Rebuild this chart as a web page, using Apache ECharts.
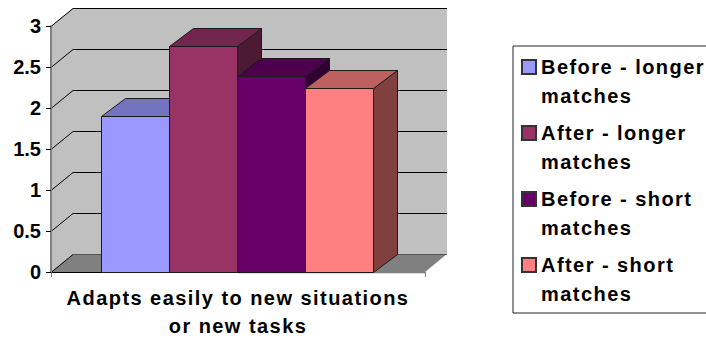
<!DOCTYPE html>
<html>
<head>
<meta charset="utf-8">
<style>
  html, body { margin: 0; padding: 0; background: #fff; }
  #chart { width: 706px; height: 338px; overflow: hidden; }
  /* Wide-set bold text for the legend and category label */
  text[style*="Arial"] { letter-spacing: 1.45px; }
</style>
<script src="https://cdn.jsdelivr.net/npm/echarts@6/dist/echarts.min.js"></script>
</head>
<body>
<div id="chart"></div>
<script>
const categories = ['Adapts easily to new situations\nor new tasks'];
const yTicks = [0, 0.5, 1, 1.5, 2, 2.5, 3];
const seriesNames = [
  'Before - longer\nmatches',
  'After - longer\nmatches',
  'Before - short\nmatches',
  'After - short\nmatches'
];
const beforeLonger = [1.9];
const afterLonger = [2.76];
const beforeShort = [2.39];
const afterShort = [2.24];
const seriesValues = [beforeLonger, afterLonger, beforeShort, afterShort];

const frontColors = ['#9999FF', '#993366', '#660066', '#FF8080'];
const topColors = ['#7373BF', '#73264D', '#4D004D', '#BF6060'];
const sideColors = ['#4D4D80', '#4D1A33', '#330033', '#804040'];

// Depth of the box walls and of the bars, in pixels
const wallDepth = [22, -18];
const barDepth = [24, -18];
const edge = '#1a1a1a';

function poly(points, fill, stroke, width) {
  return {
    type: 'polygon',
    shape: { points: points },
    style: { fill: fill, stroke: stroke || null, lineWidth: width || 1 }
  };
}
function line(a, b, stroke, width) {
  return {
    type: 'line',
    shape: { x1: a[0], y1: a[1], x2: b[0], y2: b[1] },
    style: { stroke: stroke, lineWidth: width || 1, fill: null }
  };
}

// Left wall, back wall, floor and the gridlines that run across them
function renderWalls(params, api) {
  const band = api.size([1, 0])[0];
  const origin = api.coord([0, 0]);
  const left = origin[0] - band / 2;
  const right = origin[0] + band / 2;
  const bottom = origin[1];
  const top = api.coord([0, yTicks[yTicks.length - 1]])[1];
  const dx = wallDepth[0], dy = wallDepth[1];
  const children = [
    poly([[left, top], [left + dx, top + dy], [left + dx, bottom + dy], [left, bottom]], '#C0C0C0'),
    poly([[left + dx, top + dy], [right + dx, top + dy], [right + dx, bottom + dy], [left + dx, bottom + dy]], '#C0C0C0'),
    poly([[left, bottom], [right, bottom], [right + dx, bottom + dy], [left + dx, bottom + dy]], '#808080')
  ];
  yTicks.forEach(function (t) {
    const y = Math.round(api.coord([0, t])[1]) + 0.5;
    children.push(line([left, y], [left + dx, y + dy], '#000'));
    children.push(line([left + dx, y + dy], [right + dx, y + dy], t === 0 ? '#555' : '#000'));
  });
  children.push(line([left, bottom + 0.5], [origin[0], bottom + 0.5], '#000'));
  children.push(line([origin[0], bottom + 0.5], [right, bottom + 0.5], '#808080', 1.5));
  return { type: 'group', children: children };
}

// One box: top and side first, then the front face over them
function renderBar(index) {
  return function (params, api) {
    const band = api.size([1, 0])[0];
    const barWidth = band / 5.5;
    const base = api.coord([api.value(0), 0]);
    const head = api.coord([api.value(0), api.value(1)]);
    const x0 = Math.round(base[0] - 2 * barWidth + index * barWidth) - 0.5;
    const x1 = Math.round(base[0] - 2 * barWidth + (index + 1) * barWidth) - 0.5;
    const y0 = Math.round(head[1]) + 0.5;
    const y1 = Math.round(base[1]) + 0.5;
    const dx = barDepth[0], dy = barDepth[1];
    return {
      type: 'group',
      children: [
        poly([[x1, y0], [x1 + dx, y0 + dy], [x1 + dx, y1 + dy], [x1, y1]], sideColors[index], edge),
        poly([[x0, y0], [x0 + dx, y0 + dy], [x1 + dx, y0 + dy], [x1, y0]], topColors[index], edge),
        poly([[x0, y0], [x1, y0], [x1, y1], [x0, y1]], frontColors[index], edge)
      ]
    };
  };
}

const chart = echarts.init(document.getElementById('chart'), null, { renderer: 'svg' });

chart.setOption({
  animation: false,
  backgroundColor: '#fff',
  grid: { left: 51, top: 26, width: 374, height: 246, outerBoundsMode: 'none' },
  xAxis: {
    type: 'category',
    data: categories,
    axisLine: { show: false },
    axisTick: { show: true, length: 5, lineStyle: { color: '#808080', width: 1 } },
    axisLabel: {
      fontFamily: 'Liberation Sans, Arial',
      fontWeight: 'bold',
      fontSize: 20,
      lineHeight: 28,
      color: '#000',
      margin: 12
    }
  },
  yAxis: {
    type: 'value',
    min: 0,
    max: 3,
    interval: 0.5,
    z: 5,
    splitLine: { show: false },
    axisLine: { show: true, lineStyle: { color: '#808080', width: 2 } },
    axisTick: { show: true, length: 5, lineStyle: { color: '#000', width: 1 } },
    axisLabel: {
      fontFamily: 'Liberation Sans',
      fontWeight: 'bold',
      fontSize: 20,
      color: '#000',
      margin: 10,
      formatter: function (v) { return String(v); }
    }
  },
  legend: {
    orient: 'vertical',
    left: 513,
    top: 46,
    padding: [5, 100, 4, 8],
    backgroundColor: '#fff',
    borderColor: '#222',
    borderWidth: 1,
    selectedMode: false,
    itemWidth: 14,
    itemHeight: 58,
    itemGap: 6,
    icon: 'path://M0 8H14V22H0Z M0 0 M14 58',
    textStyle: {
      fontFamily: 'Liberation Sans, Arial',
      fontWeight: 'bold',
      fontSize: 20,
      lineHeight: 29,
      color: '#000'
    },
    data: seriesNames
  },
  series: [
    {
      type: 'custom',
      name: 'walls',
      silent: true,
      z: 1,
      renderItem: renderWalls,
      data: [[0, 0]]
    }
  ].concat(seriesNames.map(function (name, i) {
    return {
      type: 'custom',
      name: name,
      z: 2 + i,
      itemStyle: { color: frontColors[i], borderColor: '#333', borderWidth: 1 },
      renderItem: renderBar(i),
      encode: { x: 0, y: 1 },
      data: seriesValues[i].map(function (v, c) { return [c, v]; })
    };
  }))
});
</script>
</body>
</html>
